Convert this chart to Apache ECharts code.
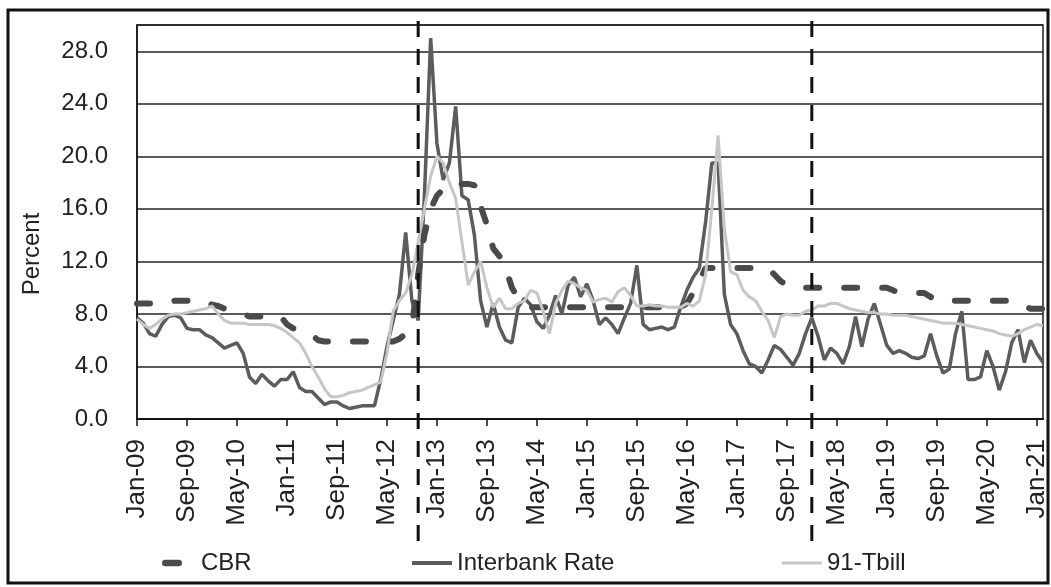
<!DOCTYPE html>
<html>
<head>
<meta charset="utf-8"/>
<title>Policy and market rates</title>
<script src="https://cdn.jsdelivr.net/npm/echarts@6/dist/echarts.min.js"></script>
<style>
  html, body { margin: 0; padding: 0; background: #fff; }
  #chart { width: 1051px; height: 587px; }
</style>
</head>
<body>
<div id="chart"></div>
<script>
// monthly, Jan-09 .. Feb-21
var monNames = ['Jan','Feb','Mar','Apr','May','Jun','Jul','Aug','Sep','Oct','Nov','Dec'];
var months = [];
for (var y = 2009; y <= 2021; y++) {
  for (var m = 0; m < 12; m++) {
    if (y == 2021 && m > 1) break;
    months.push(monNames[m] + '-' + String(y).slice(2));
  }
}

// one row per year, Jan..Dec
var cbr = [
  8.8,8.8,8.8,8.8,8.8,8.8, 9.0,9.0,9.0,9.0,9.0,9.0,
  8.7,8.6,8.4,8.2,8.1,8.0, 7.8,7.8,7.8,7.8,7.8,7.8,
  7.2,6.9,6.8,6.7,6.4,6.0, 5.9,5.9,5.9,5.9,5.9,5.9,
  5.9,5.9,5.9,5.9,5.9,5.9, 6.1,6.5,7.0,11.0,14.0,16.0,
  17.0,17.5,17.9,17.9,17.9,17.9, 17.8,16.2,14.8,13.0,12.4,11.5,
  10.0,9.2,8.8,8.5,8.5,8.5, 8.5,8.5,8.5,8.5,8.5,8.5,
  8.5,8.5,8.5,8.5,8.5,8.5, 8.5,8.5,8.5,8.5,8.5,8.5,
  8.5,8.5,8.5,8.5,8.8,9.6, 10.5,11.5,11.5,11.5,11.5,11.5,
  11.5,11.5,11.5,11.5,11.5,11.5, 11.0,10.5,10.2,10.0,10.0,10.0,
  10.0,10.0,10.0,10.0,10.0,10.0, 10.0,10.0,10.0,10.0,10.0,10.0,
  10.0,9.8,9.6,9.6,9.6,9.6, 9.6,9.3,9.0,9.0,9.0,9.0,
  9.0,9.0,9.0,9.0,9.0,9.0, 9.0,9.0,9.0,8.9,8.6,8.4,
  8.4,8.4
];

var interbank = [
  7.7,7.3,6.5,6.3,7.2,7.8, 7.9,7.7,6.9,6.8,6.8,6.4,
  6.2,5.8,5.4,5.6,5.8,5.0, 3.2,2.7,3.4,2.9,2.5,3.0,
  3.0,3.6,2.4,2.1,2.1,1.6, 1.1,1.3,1.3,1.0,0.8,0.9,
  1.0,1.0,1.0,3.0,5.5,7.5, 9.5,14.2,9.0,7.5,17.0,29.0,
  21.0,18.2,19.5,23.8,17.0,16.7, 14.0,9.0,7.0,8.8,7.0,6.0,
  5.8,8.5,9.2,8.7,7.4,6.9, 7.9,9.4,8.0,10.2,10.8,9.3,
  10.3,9.0,7.2,7.7,7.2,6.5, 7.7,8.8,11.7,7.2,6.8,6.9,
  7.0,6.8,7.0,8.5,9.8,10.8, 11.5,15.0,19.5,19.5,9.5,7.2,
  6.5,5.2,4.2,4.0,3.5,4.5, 5.6,5.3,4.7,4.1,5.0,6.5,
  7.7,6.3,4.5,5.4,5.0,4.2, 5.5,7.8,5.5,7.6,8.8,7.2,
  5.6,5.0,5.2,5.0,4.7,4.6, 4.8,6.5,4.8,3.5,3.8,6.5,
  8.2,3.0,3.0,3.2,5.2,4.0, 2.2,3.6,5.8,6.8,4.3,6.0,
  5.0,4.3
];

var tbill = [
  7.6,7.2,6.9,7.2,7.6,7.9, 8.0,8.0,8.1,8.2,8.3,8.4,
  8.6,8.0,7.5,7.3,7.3,7.3, 7.2,7.2,7.2,7.2,7.1,6.9,
  6.6,6.2,5.8,5.0,4.0,3.2, 2.3,1.7,1.7,1.8,2.0,2.1,
  2.2,2.4,2.6,2.8,5.0,8.2, 9.0,9.6,11.0,13.5,16.0,18.5,
  20.0,19.5,18.0,16.8,13.5,10.2, 11.2,12.0,10.0,8.5,9.2,8.4,
  8.4,8.8,9.0,9.8,9.6,8.2, 6.5,8.8,9.8,10.5,10.3,10.0,
  9.8,8.9,9.1,9.2,8.9,9.7, 10.0,9.4,8.6,8.6,8.7,8.6,
  8.6,8.5,8.5,8.5,8.8,8.6, 9.0,11.0,16.0,21.6,14.5,11.2,
  11.0,9.8,9.3,9.0,8.2,7.5, 6.2,7.8,8.0,7.9,7.9,8.2,
  8.3,8.6,8.6,8.8,8.8,8.6, 8.4,8.3,8.2,8.1,8.1,8.0,
  8.0,7.9,7.9,7.9,7.8,7.7, 7.6,7.5,7.4,7.3,7.3,7.3,
  7.2,7.1,7.0,6.9,6.8,6.7, 6.5,6.4,6.3,6.5,6.8,7.0,
  7.2,7.1
];

var yTicks = [0, 4, 8, 12, 16, 20, 24, 28];
var breakMonths = ['Oct-12', 'Jan-18'];

var font = "'Liberation Sans', Arial, sans-serif";
var chart = echarts.init(document.getElementById('chart'), null, {renderer: 'canvas'});

var legendText = { fontSize: 24, color: '#222', fontFamily: font };
var flatIcon = { borderWidth: 0, borderColor: 'transparent', borderType: 'solid' };
var option = {
  animation: false,
  backgroundColor: '#fff',
  textStyle: { fontFamily: font },
  grid: {
    left: 137, right: 8, top: 25, bottom: 168,
    show: true, borderColor: '#222', borderWidth: 1.5
  },
  legend: [
    {
      left: 157, top: 546, itemWidth: 20, itemHeight: 7,
      itemStyle: flatIcon,
      lineStyle: { width: 0, type: 'solid', color: 'transparent' },
      data: [{ name: 'CBR', icon: 'path://M3,0 L17,0 A3.5,3.5 0 0 1 17,7 L3,7 A3.5,3.5 0 0 1 3,0 Z' }],
      textStyle: { fontSize: 24, color: '#222', fontFamily: font, padding: [0, 0, 0, 14] }
    },
    {
      left: 407, top: 546, itemWidth: 40, itemHeight: 4,
      itemStyle: flatIcon,
      lineStyle: { width: 0, type: 'solid', color: 'transparent' },
      data: [{ name: 'Interbank Rate', icon: 'rect' }],
      textStyle: legendText
    },
    {
      left: 777, top: 546, itemWidth: 40, itemHeight: 3,
      itemStyle: flatIcon,
      lineStyle: { width: 0, type: 'solid', color: 'transparent' },
      data: [{ name: '91-Tbill', icon: 'rect' }],
      textStyle: legendText
    }
  ],
  xAxis: {
    type: 'category',
    data: months,
    boundaryGap: false,
    axisLine: { lineStyle: { color: '#111', width: 2 } },
    axisTick: { show: true, interval: 7, length: 7, lineStyle: { color: '#111', width: 1.5 } },
    axisLabel: {
      interval: 7, rotate: 90, margin: 20,
      fontSize: 26, color: '#222', fontFamily: font
    },
    splitLine: { show: false }
  },
  yAxis: {
    type: 'value',
    min: 0, max: 30, interval: 4,
    axisLine: { show: true, lineStyle: { color: '#111', width: 1.5 } },
    axisTick: { show: false },
    axisLabel: {
      showMaxLabel: false, margin: 29,
      fontSize: 24, color: '#222', fontFamily: font,
      formatter: function (v) { return yTicks.indexOf(v) >= 0 ? v.toFixed(1) : ''; }
    },
    splitLine: { show: true, lineStyle: { color: '#222', width: 1.5 } }
  },
  series: [
    {
      name: 'CBR', type: 'line', data: cbr,
      showSymbol: false, symbol: 'none',
      itemStyle: { color: '#4a4a4a' },
      lineStyle: { color: '#4a4a4a', width: 6, type: [13, 25], cap: 'round' },
      z: 3
    },
    {
      name: 'Interbank Rate', type: 'line', data: interbank,
      showSymbol: false, symbol: 'none',
      itemStyle: { color: '#5c5c5c' },
      lineStyle: { color: '#5c5c5c', width: 3.5 },
      z: 2
    },
    {
      name: '91-Tbill', type: 'line', data: tbill,
      showSymbol: false, symbol: 'none',
      itemStyle: { color: '#c6c6c6' },
      lineStyle: { color: '#c6c6c6', width: 3 },
      z: 4
    }
  ]
};
chart.setOption(option);

// frame, axis title and the two dashed break lines (they run past the plot)
var gfx = [
  {
    type: 'rect', silent: true,
    shape: { x: 8, y: 10, width: 1040, height: 573 },
    style: { fill: null, stroke: '#111', lineWidth: 3 }
  },
  {
    type: 'text', silent: true,
    x: 32, y: 254, rotation: Math.PI / 2,
    style: {
      text: 'Percent', fontSize: 24, fontFamily: font, fill: '#222',
      align: 'center', verticalAlign: 'middle'
    }
  }
];
breakMonths.forEach(function (mo) {
  var px = chart.convertToPixel({ xAxisIndex: 0 }, mo);
  gfx.push({
    type: 'line', silent: true, z: 10,
    shape: { x1: px, y1: 21, x2: px, y2: 545 },
    style: { stroke: '#111', lineWidth: 3, lineDash: [16, 12] }
  });
});
chart.setOption({ graphic: gfx });
</script>
</body>
</html>
